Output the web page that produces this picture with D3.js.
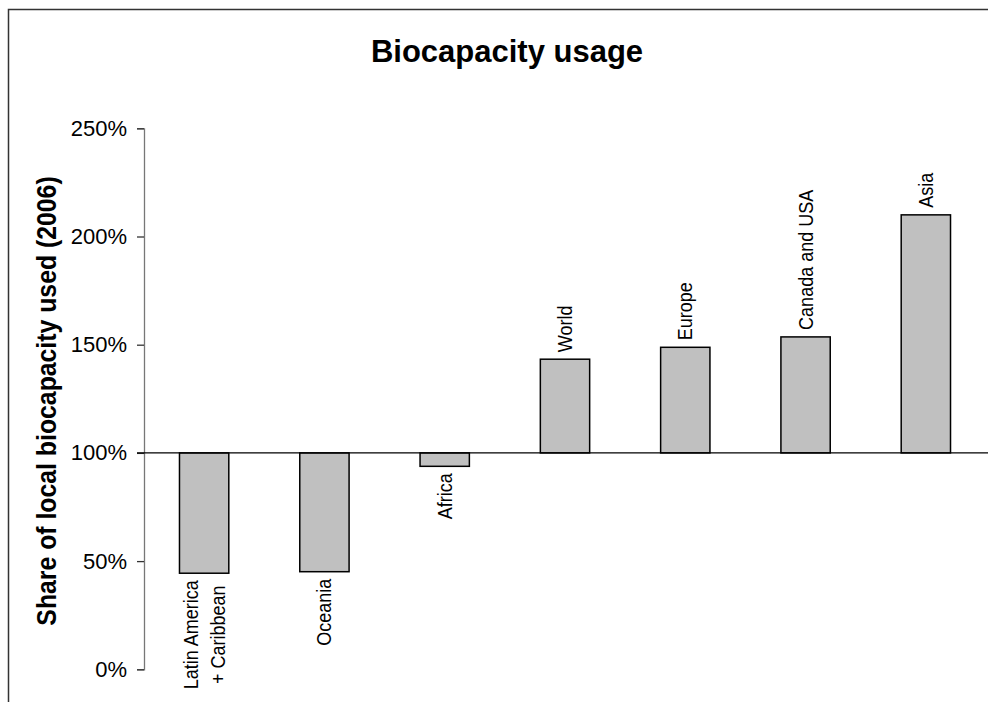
<!DOCTYPE html>
<html>
<head>
<meta charset="utf-8">
<script src="https://cdn.jsdelivr.net/npm/d3@7"></script>
<style>
  html, body { margin: 0; padding: 0; background: #fff; }
  svg { display: block; font-family: "Liberation Sans", Arial, sans-serif; }
</style>
</head>
<body>
<svg id="chart" width="988" height="702"></svg>
<script>
const categories = ["Latin America\n+ Caribbean", "Oceania", "Africa", "World", "Europe", "Canada and USA", "Asia"];
const values = [44.4, 45.1, 93.8, 143.3, 148.8, 153.6, 210.0];
const tickValues = [0, 50, 100, 150, 200, 250];
const tickLabels = ["0%", "50%", "100%", "150%", "200%", "250%"];
const baselineValue = 100;
const titleText = "Biocapacity usage";
const yTitle = "Share of local biocapacity used (2006)";

const svg = d3.select("#chart");

// outer frame
svg.append("rect")
  .attr("x", 8.5).attr("y", 9.5)
  .attr("width", 1100).attr("height", 1000)
  .attr("fill", "none").attr("stroke", "#333").attr("stroke-width", 1.5);

const y = d3.scaleLinear().domain([0, 250]).range([669.3, 128.3]);
const x = d3.scaleBand().domain(categories).range([144, 986])
  .paddingInner(0.59).paddingOuter(0.295);

// title
svg.append("text")
  .attr("x", 507).attr("y", 62)
  .attr("text-anchor", "middle")
  .attr("font-size", 31).attr("font-weight", "bold")
  .text(titleText);

// y axis title
svg.append("text")
  .attr("transform", "translate(56,401) scale(1.12,1) rotate(-90)")
  .attr("text-anchor", "middle")
  .attr("font-size", 24.8).attr("font-weight", "bold")
  .text(yTitle);

// y axis
const yAxis = d3.axisLeft(y).tickValues(tickValues)
  .tickFormat((d, i) => tickLabels[i]).tickSizeOuter(0).tickSize(7).tickPadding(10);
const gy = svg.append("g").attr("transform", "translate(144,0)").call(yAxis);
gy.select(".domain").attr("stroke", "#777").attr("stroke-width", 1.3);
gy.selectAll(".tick line").attr("stroke", "#333").attr("stroke-width", 1.3);
gy.selectAll(".tick text").attr("font-size", 22).attr("fill", "#000")
  .attr("font-family", "Liberation Sans, Arial, sans-serif");

// bars
svg.append("g").selectAll("rect").data(values).join("rect")
  .attr("x", (d, i) => x(categories[i]))
  .attr("width", x.bandwidth())
  .attr("y", d => y(Math.max(d, baselineValue)))
  .attr("height", d => Math.abs(y(d) - y(baselineValue)))
  .attr("fill", "#c0c0c0").attr("stroke", "#000").attr("stroke-width", 1.5);

// baseline at 100%
svg.append("line")
  .attr("x1", 137).attr("x2", 988)
  .attr("y1", y(baselineValue)).attr("y2", y(baselineValue))
  .attr("stroke", "#000").attr("stroke-width", 1.3);

// category labels
const fs = 18, lineGap = 24;
categories.forEach((c, i) => {
  const v = values[i];
  const cx = x(c) + x.bandwidth() / 2;
  const lines = c.split("\n");
  const above = v >= baselineValue;
  const t = svg.append("text")
    .attr("font-size", fs).attr("fill", "#000");
  lines.forEach((ln, j) => {
    t.append("tspan").attr("x", 0)
      .attr("y", (j - (lines.length - 1) / 2) * lineGap + fs * 0.35)
      .text(ln);
  });
  let maxLen = 0;
  t.selectAll("tspan").each(function() { maxLen = Math.max(maxLen, this.getComputedTextLength()); });
  t.attr("text-anchor", "middle");
  const gap = 7;
  const cy = above ? y(v) - gap - maxLen / 2 : y(v) + gap + maxLen / 2;
  t.attr("transform", `translate(${cx},${cy}) scale(1.12,1) rotate(-90)`);
});
</script>
</body>
</html>
